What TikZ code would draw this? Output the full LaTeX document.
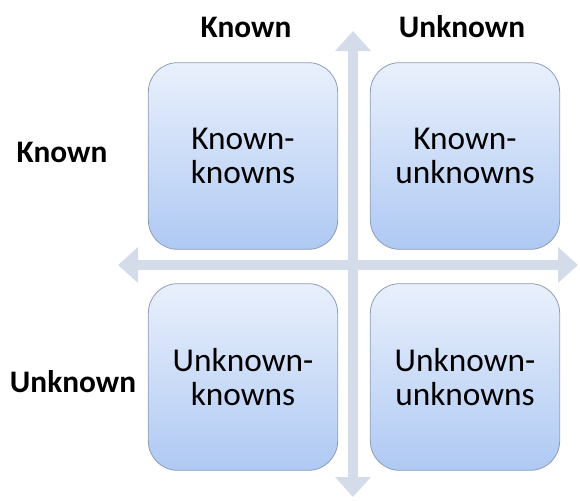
\documentclass[tikz,border=0pt]{standalone}
\usepackage{fontspec}
\setmainfont{Carlito}
\usetikzlibrary{arrows.meta}
\definecolor{axisc}{HTML}{D3DCE8}
\definecolor{boxtop}{HTML}{E9F0FC}
\definecolor{boxbot}{HTML}{AFC9F3}
\definecolor{boxline}{HTML}{8E9DB4}
\tikzset{
  quad/.style={draw=boxline, line width=0.6pt, rounded corners=22pt,
    top color=boxtop, bottom color=boxbot, minimum width=142pt, minimum height=140pt,
    align=center, font=\fontsize{25}{26}\selectfont, inner sep=0pt},
  hdr/.style={font=\fontsize{23.5}{26}\selectfont\bfseries, inner sep=0pt},
  axis/.style={draw=axisc, line width=7.5pt,
    {Triangle[width=26pt,length=15pt]}-{Triangle[width=26pt,length=15pt]}}
}
\begin{document}
\begin{tikzpicture}[x=0.75pt,y=-0.75pt]
\useasboundingbox (0,0) rectangle (580,500);
% axes
\coordinate (vt) at (353,31);
\coordinate (vb) at (353,497);
\coordinate (hl) at (118,265);
\coordinate (hr) at (578,265);
\draw[axis] (vt) -- (vb);
\draw[axis] (hl) -- (hr);
% quadrants
\node[quad] (kk) at (243,156) {Known-\\knowns};
\node[quad] (ku) at (465,156) {Known-\\unknowns};
\node[quad] (uk) at (243,377) {Unknown-\\knowns};
\node[quad] (uu) at (465,377) {Unknown-\\unknowns};
% headers
\node[hdr] (ch1) at (246,27) {Known};
\node[hdr] (ch2) at (462,27) {Unknown};
\node[hdr] (rh1) at (62,152) {Known};
\node[hdr] (rh2) at (73,382) {Unknown};
\end{tikzpicture}
\end{document}
